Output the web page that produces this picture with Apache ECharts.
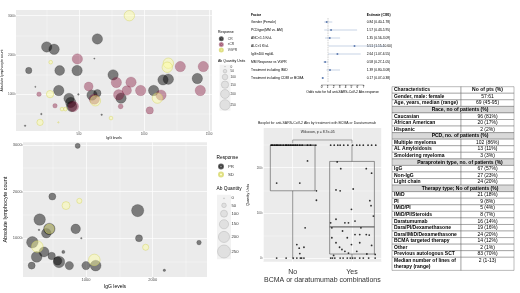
<!DOCTYPE html>
<html>
<head>
<meta charset="utf-8">
<script src="https://cdn.jsdelivr.net/npm/echarts@6/dist/echarts.min.js"></script>
<style>
html,body{margin:0;padding:0;background:#fff;}
#main{width:520px;height:293px;}
</style>
</head>
<body>
<div id="main"></div>
<script>
// ---- panel A : IgG vs ALC (response CR / sCR / VGPR), [IgG, ALC, Ab quantity]
var respA = ['CR', 'sCR', 'VGPR'];
var crA = [[641,2407,250],[251,2203,250],[308,2144,250],[618,1907,5],[113,1602,120],[351,1602,230],[485,1602,250],
	[762,1492,250],[1074,1093,250],[1410,1398,250],[1146,1364,250],[1187,1381,250],[674,475,10],[823,898,250],
	[600,975,250],[641,1025,150],[444,686,250],[423,890,250],[436,788,250],[344,1093,250],[164,1186,5],
	[495,992,10],[210,492,10],[85,195,10]];
var scrA = [[487,1898,250],[787,1297,250],[900,1305,250],[867,1093,220],[974,1093,250],[1279,1703,250],
	[1456,1703,250],[1433,1093,250],[1131,975,250],[1044,585,150],[820,686,80],[805,983,250],[574,1195,200],
	[618,873,250],[456,686,250],[192,1000,70],[315,703,70]];
var vgprA = [[887,3000,250],[282,1814,50],[1187,1788,250],[1179,1686,250],[1103,898,250],[746,390,50],
	[626,830,250],[277,1000,150],[369,619,50],[395,619,50],[200,280,120],[341,280,5]];

// ---- panel B : IgG vs ALC (response PR / SD)
var respB = ['PR', 'SD'];
var prB = [[875,2979,60],[495,1893,100],[1775,1593,230],[305,1400,210],[450,1200,210],[405,1107,160],
	[845,1200,160],[930,1000,5],[1795,1000,100],[2695,907,50],[195,914,210],[260,600,190],[370,707,170],
	[485,621,110],[660,707,25],[575,514,130],[595,493,210],[185,414,100],[750,414,130],[1000,414,130],
	[1145,414,190],[2175,314,15],[295,1179,5]];
var sdB = [[700,1700,120],[900,1800,60],[450,1200,160],[1895,807,80],[270,821,210],[1125,536,210]];

var abLevels = [0, 50, 100, 150, 200, 250];
var igTicksA = [500, 1000, 1500];
var alcTicks = [1000, 2000, 3000];
var igTicksB = [1000, 2000];

// ---- forest plot
var factors = ['Gender (Female)', 'PCDtype(MM vs. AM)', 'ANC<1.5 K/uL', 'ALC>1 K/uL', 'IgG>400 mg/dL',
	'MM Response vs VGPR', 'Treatment including IMiD', 'Treatment including CD38 or BCMA'];
var orEst  = [0.84, 1.57, 1.35, 5.51, 2.64, 0.58, 1.39, 0.17];
var orLow  = [0.40, 0.43, 0.56, 1.15, 1.07, 0.27, 0.80, 0.07];
var orHigh = [1.78, 5.95, 3.09, 10.60, 6.55, 1.05, 3.08, 0.38];
var orText = ['0.84 (0.40-1.78)', '1.57 (0.43-5.95)', '1.35 (0.56-3.09)', '5.51 (1.15-10.60)',
	'2.64 (1.07-6.55)', '0.58 (0.27-1.05)', '1.39 (0.80-3.08)', '0.17 (0.07-0.38)'];

// ---- boxplot: [min, q1, median, q3, max]
var groups = ['No', 'Yes'];
var boxNo  = [0, 149, 250, 250, 250];
var boxYes = [0, 9, 69, 214, 250];
var boxTicks = [0, 100, 200];
var jitNo = [[0.64,250],[0.66,250],[0.69,250],[0.72,250],[0.74,250],[0.77,250],[0.8,250],[0.84,250],[0.88,250],
	[0.9,250],[0.93,250],[0.96,250],[0.99,250],[1.02,250],[1.05,250],[1.08,250],[1.12,250],[1.16,250],[1.25,250],
	[1.3,250],[1.39,250],[1.25,215],[0.73,166],[1.12,166],[1.4,149],[1.4,128],[1.21,67],[1.07,30],[1.11,22],
	[1.19,24],[1.12,10],[0.73,0],[0.89,0],[1.01,0],[1.07,0],[1.13,0],[1.15,0],[1.19,0]];
var jitYes = [[1.64,250],[1.7,250],[1.76,250],[1.8,250],[1.86,250],[1.93,250],[2.01,250],[2.08,250],[2.13,250],
	[2.19,250],[2.27,250],[2.33,250],[2.4,250],[1.75,213],[1.81,198],[2.24,198],[2.33,188],[1.73,151],[1.8,149],
	[2.02,153],[2.3,127],[2.32,116],[1.99,108],[1.73,86],[1.64,78],[2.36,93],[1.88,78],[1.94,78],[2.05,82],
	[2.15,67],[1.66,67],[1.84,60],[2.05,52],[2.13,52],[2.24,52],[2.29,51],[1.92,45],[1.66,45],[1.73,34],[2.13,34],
	[1.99,30],[2.33,28],[1.83,19],[1.79,24],[1.88,15],[1.69,6],[1.94,11],[2.08,15],[2.25,9],[2.39,8],
	[1.64,0],[1.67,0],[1.71,0],[1.8,0],[1.85,0],[1.92,0],[1.97,0],[2.01,0],[2.05,0],[2.13,0],[2.19,0],[2.28,0],[2.39,0]];
// bracket: [from, to, top, drop], label position [x, y]
var wilcoxBracket = [1, 2, 261.5, 254];
var wilcoxLabel = [1.42, 280];

// ---- table
var tblLabel = ['Characteristics', 'Gender, male: female', 'Age, years, median (range)', 'Race, no of patients (%)',
	'Caucasian', 'African American', 'Hispanic', 'PCD, no. of patients (%)', 'Multiple myeloma', 'AL Amyloidosis',
	'Smoldering myeloma', 'Paraprotein type, no. of patients (%)', 'IgG', 'Non-IgG', 'Light chain',
	'Therapy type; No of patients (%)', 'IMiD', 'PI', 'IMiD/PI', 'IMiD/PI/Steroids', 'Daratumumab',
	'Dara/PI/Dexamethasone', 'Dara/IMiD/Dexamethasone', 'BCMA targeted therapy', 'Other',
	'Previous autologous SCT', 'Median number of lines of\ntherapy (range)'];
var tblValue = ['No of pts (%)', '57:61', '69 (45-95)', '', '96 (81%)', '20 (17%)', '2 (2%)', '', '102 (86%)',
	'13 (11%)', '3 (3%)', '', '67 (57%)', '27 (23%)', '24 (20%)', '', '21 (18%)', '9 (8%)', '5 (4%)', '8 (7%)',
	'16 (14%)', '19 (16%)', '24 (20%)', '14 (12%)', '2 (1%)', '83 (70%)', '2 (1-13)'];
var tblKind = ['head', 'row', 'row', 'section', 'row', 'row', 'row', 'section', 'row', 'row', 'row', 'section',
	'row', 'row', 'row', 'section', 'row', 'row', 'row', 'row', 'row', 'row', 'row', 'row', 'row', 'row', 'double'];

var fam = 'Liberation Sans';
var tblSplit = 0.566;

function szA(v) { return 0.8 + 9.6 * Math.pow(v / 250, 0.75); }
function szB(v) { return 1 + 12 * Math.pow(v / 250, 0.75); }

var styCR = { color: 'rgba(0,0,0,0.6)', borderColor: 'rgba(0,0,0,0.75)', borderWidth: 0.3 };
var stySCR = { color: 'rgba(128,10,50,0.5)', borderColor: 'rgba(110,0,40,0.55)', borderWidth: 0.3 };
var styVG = { color: 'rgba(255,255,160,0.55)', borderColor: 'rgba(210,210,90,0.9)', borderWidth: 0.6 };

// ggplot-like value axis
function ggAxis(grid, min, max, ticks, name, gap, isY, fs, nfs) {
	var ax = {
		gridIndex: grid, type: 'value', min: min, max: max, splitNumber: 3,
		axisLine: { show: false },
		axisTick: { show: true, customValues: ticks, length: 1.2, lineStyle: { color: '#333', width: 0.4 } },
		axisLabel: { customValues: ticks, fontSize: fs, color: '#4d4d4d', margin: 1.3, fontFamily: fam, hideOverlap: false,
			formatter: function (v) { return String(v); } },
		splitLine: { show: true, lineStyle: { color: '#fff', width: 0.7 } },
		minorTick: { show: true, splitNumber: 2, length: 0 },
		minorSplitLine: { show: true, lineStyle: { color: '#fff', width: 0.35 } },
		name: name, nameLocation: 'middle', nameGap: gap,
		nameTextStyle: { fontSize: nfs, color: '#000', fontFamily: fam }
	};
	if (isY) ax.nameRotate = 90;
	return ax;
}

// size legend (legend keys, laid out from the key sizes)
function sizeKeys(x, yTop, w, textX, fn, pad, minH, fs) {
	var els = [], y = yTop, centers = [];
	abLevels.forEach(function (v) {
		var h = Math.max(fn(v) + pad, minH);
		centers.push(y + h / 2);
		y += h;
	});
	els.push({ type: 'rect', shape: { x: x, y: yTop, width: w, height: y - yTop }, style: { fill: '#f2f2f2' } });
	abLevels.forEach(function (v, i) {
		els.push({ type: 'circle', shape: { cx: x + w / 2, cy: centers[i], r: fn(v) / 2 },
			style: { fill: 'rgba(0,0,0,0.07)', stroke: '#aaa', lineWidth: 0.4 } });
		els.push({ type: 'text', x: textX, y: centers[i],
			style: { text: String(v), fontSize: fs, fontFamily: fam, fill: '#333', verticalAlign: 'middle' } });
	});
	return els;
}

var chart = echarts.init(document.getElementById('main'));

option = {
	animation: false,
	backgroundColor: '#fff',
	title: [
		{ text: 'Response', left: 218, top: 30.5, padding: 0, textStyle: { fontSize: 3.5, fontWeight: 'normal', color: '#000', fontFamily: fam } },
		{ text: 'Ab Quantity Units', left: 218, top: 59.5, padding: 0, textStyle: { fontSize: 3.5, fontWeight: 'normal', color: '#000', fontFamily: fam } },
		{ text: 'Response', left: 216.5, top: 155, padding: 0, textStyle: { fontSize: 4.8, fontWeight: 'normal', color: '#000', fontFamily: fam } },
		{ text: 'Ab Quantity', left: 216.5, top: 186, padding: 0, textStyle: { fontSize: 4.8, fontWeight: 'normal', color: '#000', fontFamily: fam } },
		{ text: 'Factor', left: 251, top: 13.8, padding: 0, textStyle: { fontSize: 3.3, fontWeight: 'bold', color: '#000', fontFamily: fam } },
		{ text: 'Estimate (CI95)', left: 366.7, top: 13.8, padding: 0, textStyle: { fontSize: 3.3, fontWeight: 'bold', color: '#000', fontFamily: fam } },
		{ text: 'Boxplot for anti-SARS-CoV-2 Abs by treatment with BCMA or Daratumumab', left: 258, top: 121.3, padding: 0,
			textStyle: { fontSize: 3.5, fontWeight: 'normal', color: '#222', fontFamily: fam } }
	],
	legend: [
		{ data: respA, orient: 'vertical', left: 218.8, top: 36.3, padding: 0, itemWidth: 3, itemHeight: 3, itemGap: 0.6,
			icon: 'circle', selectedMode: false, textStyle: { fontSize: 3.3, color: '#333', fontFamily: fam } },
		{ data: respB, orient: 'vertical', left: 218, top: 163.4, padding: 0, itemWidth: 4, itemHeight: 4, itemGap: 2,
			icon: 'circle', selectedMode: false, textStyle: { fontSize: 4.3, color: '#333', fontFamily: fam } }
	],
	graphic: sizeKeys(219.5, 64.7, 11, 230.5, szA, 1.2, 4, 3.2).concat(sizeKeys(217, 194.8, 14, 231.5, szB, 2.5, 7, 4.2)),
	grid: [
		{ left: 16, top: 10, width: 196, height: 121, show: true, backgroundColor: '#ebebeb', borderWidth: 0, outerBoundsMode: 'none' },
		{ left: 23, top: 142.3, width: 184, height: 134.7, show: true, backgroundColor: '#ebebeb', borderWidth: 0, outerBoundsMode: 'none' },
		{ left: 321.7, top: 18, width: 41.65, height: 64, outerBoundsMode: 'none' },
		{ left: 263, top: 128, width: 118.7, height: 133.7, show: true, backgroundColor: '#ebebeb', borderWidth: 0, outerBoundsMode: 'none' },
		{ left: 392, top: 86.7, width: 122, height: 183.7, outerBoundsMode: 'none' }
	],
	xAxis: [
		ggAxis(0, 15, 1523, igTicksA, 'IgG levels', 4.5, false, 3, 3.5),
		ggAxis(1, 55, 2815, igTicksB, 'IgG levels', 7.5, false, 4, 5),
		{ gridIndex: 2, type: 'value', min: 0, max: 7, interval: 1, offset: 3,
			axisLine: { show: true, lineStyle: { color: '#333', width: 0.4 } },
			axisTick: { show: true, length: 1.3, lineStyle: { color: '#333', width: 0.4 } },
			axisLabel: { fontSize: 3, color: '#000', margin: 1, fontFamily: fam, hideOverlap: false },
			splitLine: { show: false },
			name: 'Odds ratio for full anti-SARS-CoV-2 Abs response', nameLocation: 'middle', nameGap: 5.5,
			nameTextStyle: { fontSize: 3.3, color: '#000', fontFamily: fam } },
		{ gridIndex: 3, type: 'category', data: groups,
			axisLine: { show: false },
			axisTick: { show: true, alignWithLabel: true, length: 1.3, lineStyle: { color: '#333', width: 0.4 } },
			axisLabel: { fontSize: 7, color: '#333', margin: 7.3, fontFamily: fam },
			splitLine: { show: false },
			name: 'BCMA or daratumumab combinations', nameLocation: 'middle', nameGap: 15.3,
			nameTextStyle: { fontSize: 7, color: '#333', fontFamily: fam } },
		{ gridIndex: 3, type: 'value', min: 0.5, max: 2.5, splitNumber: 2, show: true,
			axisLine: { show: false }, axisTick: { show: false }, axisLabel: { show: false },
			splitLine: { show: true, lineStyle: { color: '#fff', width: 0.7 } } },
		{ gridIndex: 4, type: 'value', min: 0, max: 1, show: false }
	],
	yAxis: [
		ggAxis(0, 60, 3145, alcTicks, 'Absolute lymphocyte count', 11.5, true, 3, 3.5),
		ggAxis(1, 170, 3055, alcTicks, 'Absolute lymphocyte count', 13.5, true, 4, 5.5),
		{ gridIndex: 2, type: 'category', data: factors, inverse: true,
			axisLine: { show: false }, axisTick: { show: false },
			axisLabel: { interval: 0, align: 'left', margin: 70.7, fontSize: 3.3, color: '#000', fontFamily: fam } },
		{ gridIndex: 2, type: 'category', data: orText, inverse: true, position: 'right',
			axisLine: { show: false }, axisTick: { show: false },
			axisLabel: { interval: 0, align: 'left', margin: 3.4, fontSize: 3.3, color: '#000', fontFamily: fam } },
		ggAxis(3, -8, 288, boxTicks, 'Quantity Units', 12.5, true, 3, 3.5),
		{ gridIndex: 4, type: 'value', min: 0, max: 28, inverse: true, show: false }
	],
	series: [
		{ name: 'CR', type: 'scatter', xAxisIndex: 0, yAxisIndex: 0, data: crA, itemStyle: styCR,
			symbolSize: function (d) { return szA(d[2]); } },
		{ name: 'sCR', type: 'scatter', xAxisIndex: 0, yAxisIndex: 0, data: scrA, itemStyle: stySCR,
			symbolSize: function (d) { return szA(d[2]); } },
		{ name: 'VGPR', type: 'scatter', xAxisIndex: 0, yAxisIndex: 0, data: vgprA, itemStyle: styVG,
			symbolSize: function (d) { return szA(d[2]); } },
		{ name: 'PR', type: 'scatter', xAxisIndex: 1, yAxisIndex: 1, data: prB, itemStyle: styCR,
			symbolSize: function (d) { return szB(d[2]); } },
		{ name: 'SD', type: 'scatter', xAxisIndex: 1, yAxisIndex: 1, data: sdB, itemStyle: styVG,
			symbolSize: function (d) { return szB(d[2]); } },
		// forest CI lines
		{ type: 'custom', xAxisIndex: 2, yAxisIndex: 2, clip: false,
			data: factors.map(function (f, i) { return [orLow[i], i, orHigh[i]]; }),
			renderItem: function (params, api) {
				var a = api.coord([api.value(0), api.value(1)]);
				var b = api.coord([api.value(2), api.value(1)]);
				return { type: 'line', shape: { x1: a[0], y1: a[1], x2: b[0], y2: b[1] },
					style: { stroke: '#8fa6c8', lineWidth: 0.5 } };
			} },
		{ type: 'scatter', xAxisIndex: 2, yAxisIndex: 2, symbolSize: 2,
			data: factors.map(function (f, i) { return [orEst[i], i]; }),
			itemStyle: { color: '#3f62a0' },
			markLine: { silent: true, symbol: 'none', label: { show: false },
				lineStyle: { color: '#888', type: 'dashed', width: 0.4 }, data: [{ xAxis: 1 }] } },
		// boxes
		{ type: 'custom', xAxisIndex: 3, yAxisIndex: 4, z: 3,
			data: [[0].concat(boxNo), [1].concat(boxYes)],
			renderItem: function (params, api) {
				var c = api.value(0), hw = 22.35;
				var pMin = api.coord([c, api.value(1)]), pQ1 = api.coord([c, api.value(2)]);
				var pMed = api.coord([c, api.value(3)]), pQ3 = api.coord([c, api.value(4)]);
				var pMax = api.coord([c, api.value(5)]);
				var st = { stroke: '#333', lineWidth: 0.5, fill: null };
				return { type: 'group', children: [
					{ type: 'line', shape: { x1: pMin[0], y1: pMin[1], x2: pQ1[0], y2: pQ1[1] }, style: st },
					{ type: 'line', shape: { x1: pQ3[0], y1: pQ3[1], x2: pMax[0], y2: pMax[1] }, style: st },
					{ type: 'rect', shape: { x: pQ3[0] - hw, y: pQ3[1], width: 2 * hw, height: pQ1[1] - pQ3[1] }, style: st },
					{ type: 'line', shape: { x1: pMed[0] - hw, y1: pMed[1], x2: pMed[0] + hw, y2: pMed[1] },
						style: { stroke: '#333', lineWidth: 0.9 } }
				] };
			} },
		{ type: 'scatter', xAxisIndex: 4, yAxisIndex: 4, data: jitNo, symbolSize: 1.8, itemStyle: { color: '#000' }, z: 4 },
		{ type: 'scatter', xAxisIndex: 4, yAxisIndex: 4, data: jitYes, symbolSize: 1.8, itemStyle: { color: '#000' }, z: 4 },
		{ type: 'custom', xAxisIndex: 4, yAxisIndex: 4, clip: false, z: 4,
			data: [wilcoxBracket.concat(wilcoxLabel)],
			renderItem: function (params, api) {
				var p1 = api.coord([api.value(0), api.value(3)]), p2 = api.coord([api.value(0), api.value(2)]);
				var p3 = api.coord([api.value(1), api.value(2)]), p4 = api.coord([api.value(1), api.value(3)]);
				var t = api.coord([api.value(4), api.value(5)]);
				return { type: 'group', children: [
					{ type: 'polyline', shape: { points: [p1, p2, p3, p4] }, style: { stroke: '#333', lineWidth: 0.4, fill: null } },
					{ type: 'text', style: { text: 'Wilcoxon, p = 8.7e-05', x: t[0], y: t[1], align: 'center',
						verticalAlign: 'middle', fontSize: 3.5, fontFamily: fam, fill: '#222' } }
				] };
			} },
		// table
		{ type: 'custom', xAxisIndex: 5, yAxisIndex: 5, clip: false,
			data: tblLabel.map(function (t, i) { return [0.5, i]; }),
			renderItem: function (params, api) {
				var i = params.dataIndex, kind = tblKind[i];
				var r1 = i + (kind === 'double' ? 2 : 1);
				var a = api.coord([0, i]), b = api.coord([tblSplit, r1]), c = api.coord([1, r1]);
				var ch = [];
				if (kind === 'section') {
					ch.push({ type: 'rect', shape: { x: a[0], y: a[1], width: c[0] - a[0], height: c[1] - a[1] },
						style: { fill: '#d9d9d9', stroke: '#555', lineWidth: 0.4 } });
					ch.push({ type: 'text', style: { text: tblLabel[i], x: 460, y: (a[1] + c[1]) / 2, align: 'center',
						verticalAlign: 'middle', fontSize: 5, fontWeight: 'bold', fontFamily: fam, fill: '#000' } });
				} else {
					var top = kind === 'double';
					ch.push({ type: 'rect', shape: { x: a[0], y: a[1], width: b[0] - a[0], height: b[1] - a[1] },
						style: { fill: '#fff', stroke: '#555', lineWidth: 0.4 } });
					ch.push({ type: 'rect', shape: { x: b[0], y: a[1], width: c[0] - b[0], height: c[1] - a[1] },
						style: { fill: '#fff', stroke: '#555', lineWidth: 0.4 } });
					ch.push({ type: 'text', style: { text: tblLabel[i], x: a[0] + 2, y: top ? a[1] + 0.6 : (a[1] + c[1]) / 2,
						align: 'left', verticalAlign: top ? 'top' : 'middle', lineHeight: 5.8,
						fontSize: 5, fontWeight: 'bold', fontFamily: fam, fill: '#000' } });
					ch.push({ type: 'text', style: { text: tblValue[i], x: (b[0] + c[0]) / 2, y: top ? a[1] + 0.6 : (a[1] + c[1]) / 2,
						align: 'center', verticalAlign: top ? 'top' : 'middle', lineHeight: 5.8,
						fontSize: 5, fontWeight: kind === 'head' ? 'bold' : 'normal', fontFamily: fam, fill: '#000' } });
				}
				return { type: 'group', children: ch };
			} }
	]
};
chart.setOption(option);
</script>
</body>
</html>
